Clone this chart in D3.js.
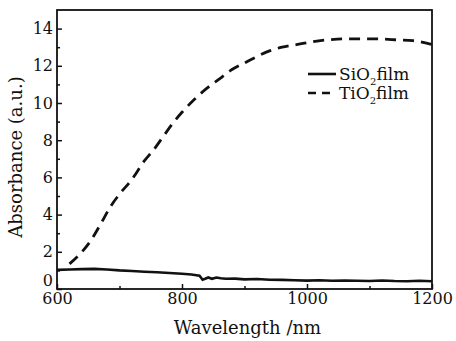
<!DOCTYPE html>
<html>
<head>
<meta charset="utf-8">
<script src="https://cdn.jsdelivr.net/npm/d3@7"></script>
<style>
  body { margin: 0; background: #fff; }
  text { font-family: "DejaVu Serif", "Liberation Serif", serif; fill: #111; }
</style>
</head>
<body>
<div id="chart"></div>
<script>
// wavelength (nm) and absorbance
const tioWave = [620, 640, 655, 670, 685, 700, 720, 740, 755, 770, 785, 800, 820, 840, 860, 880, 900, 920, 940, 960, 985, 1010, 1035, 1060, 1085, 1110, 1140, 1170, 1200];
const tioAbs  = [1.35, 2.0, 2.65, 3.5, 4.4, 5.1, 5.9, 6.9, 7.5, 8.2, 8.9, 9.5, 10.2, 10.8, 11.3, 11.8, 12.15, 12.5, 12.8, 13.0, 13.15, 13.3, 13.4, 13.45, 13.45, 13.45, 13.4, 13.35, 13.15];

const sioWave = [600, 620, 640, 660, 680, 700, 720, 740, 760, 780, 800, 815, 828, 833, 837, 842, 848, 855, 862, 870, 885, 900, 920, 940, 960, 980, 1000, 1020, 1040, 1060, 1080, 1100, 1120, 1140, 1160, 1180, 1200];
const sioAbs  = [1.03, 1.05, 1.07, 1.08, 1.05, 1.0, 0.97, 0.93, 0.9, 0.86, 0.82, 0.78, 0.72, 0.5, 0.55, 0.62, 0.55, 0.62, 0.58, 0.55, 0.56, 0.52, 0.54, 0.5, 0.49, 0.47, 0.45, 0.47, 0.44, 0.45, 0.44, 0.43, 0.46, 0.43, 0.42, 0.44, 0.42];

const xTicks = [600, 800, 1000, 1200];
const xMinor = [700, 900, 1100];
const yTicks = [0, 2, 4, 6, 8, 10, 12, 14];
const yMinor = [1, 3, 5, 7, 9, 11, 13];

const width = 456, height = 341;
const margin = { top: 10, right: 24, bottom: 52, left: 57 };
const w = width - margin.left - margin.right;
const h = height - margin.top - margin.bottom;

const svg = d3.select('#chart').append('svg')
  .attr('width', width).attr('height', height);
const g = svg.append('g')
  .attr('transform', 'translate(' + margin.left + ',' + margin.top + ')');

const x = d3.scaleLinear().domain([600, 1200]).range([0, w]);
const y = d3.scaleLinear().domain([0, 15]).range([h, 0]);

// ticks inside
g.append('g').attr('transform', 'translate(0,' + h + ')')
  .call(d3.axisBottom(x).tickValues(xTicks).tickSize(-5).tickPadding(4).tickFormat(d3.format('d')));
g.append('g').attr('transform', 'translate(0,' + h + ')')
  .call(d3.axisBottom(x).tickValues(xMinor).tickSize(-3).tickFormat(''));
const yAx = g.append('g')
  .call(d3.axisLeft(y).tickValues(yTicks).tickSize(-5).tickPadding(4));
g.append('g')
  .call(d3.axisLeft(y).tickValues(yMinor).tickSize(-3).tickFormat(''));

g.selectAll('.domain').remove();
g.selectAll('.tick line').attr('stroke', '#111').attr('stroke-width', 1.5);
g.selectAll('.tick text').style('font-size', '16px').attr('fill', '#111');
// the "0" label sits just above the "600" label, as in the original
yAx.selectAll('.tick text').filter(d => d === 0).attr('dy', '-0.2em');

// frame
g.append('rect').attr('width', w).attr('height', h)
  .attr('fill', 'none').attr('stroke', '#111').attr('stroke-width', 1.8);

const line = d3.line().x(d => x(d[0])).y(d => y(d[1]));

g.append('path')
  .datum(sioWave.map((v, i) => [v, sioAbs[i]]))
  .attr('d', line).attr('fill', 'none')
  .attr('stroke', '#111').attr('stroke-width', 2.6);

g.append('path')
  .datum(tioWave.map((v, i) => [v, tioAbs[i]]))
  .attr('d', d3.line().curve(d3.curveMonotoneX).x(d => x(d[0])).y(d => y(d[1])))
  .attr('fill', 'none')
  .attr('stroke', '#111').attr('stroke-width', 2.8)
  .attr('stroke-dasharray', '11,7');

// legend
const leg = g.append('g').attr('transform', 'translate(' + (308 - margin.left) + ',' + (74 - margin.top) + ')');
const items = [{ name: 'Si', dash: null }, { name: 'Ti', dash: '8,6' }];
items.forEach((it, i) => {
  const row = leg.append('g').attr('transform', 'translate(0,' + i * 19 + ')');
  row.append('line').attr('x1', 0).attr('x2', 28).attr('y1', 0).attr('y2', 0)
    .attr('stroke', '#111').attr('stroke-width', 2.6)
    .attr('stroke-dasharray', it.dash);
  const t = row.append('text').attr('x', 31).attr('y', 6).style('font-size', '17px');
  t.append('tspan').text(it.name + 'O');
  t.append('tspan').attr('dy', 5).style('font-size', '10px').text('2');
  t.append('tspan').attr('dy', -5).text('film');
});

// axis titles
svg.append('text')
  .attr('x', margin.left + w / 2 + 3).attr('y', 334)
  .attr('text-anchor', 'middle').style('font-size', '18px')
  .text('Wavelength /nm');

svg.append('text')
  .attr('transform', 'translate(22,' + 157 + ') rotate(-90)')
  .attr('text-anchor', 'middle').style('font-size', '18px')
  .text('Absorbance (a.u.)');
</script>
</body>
</html>
